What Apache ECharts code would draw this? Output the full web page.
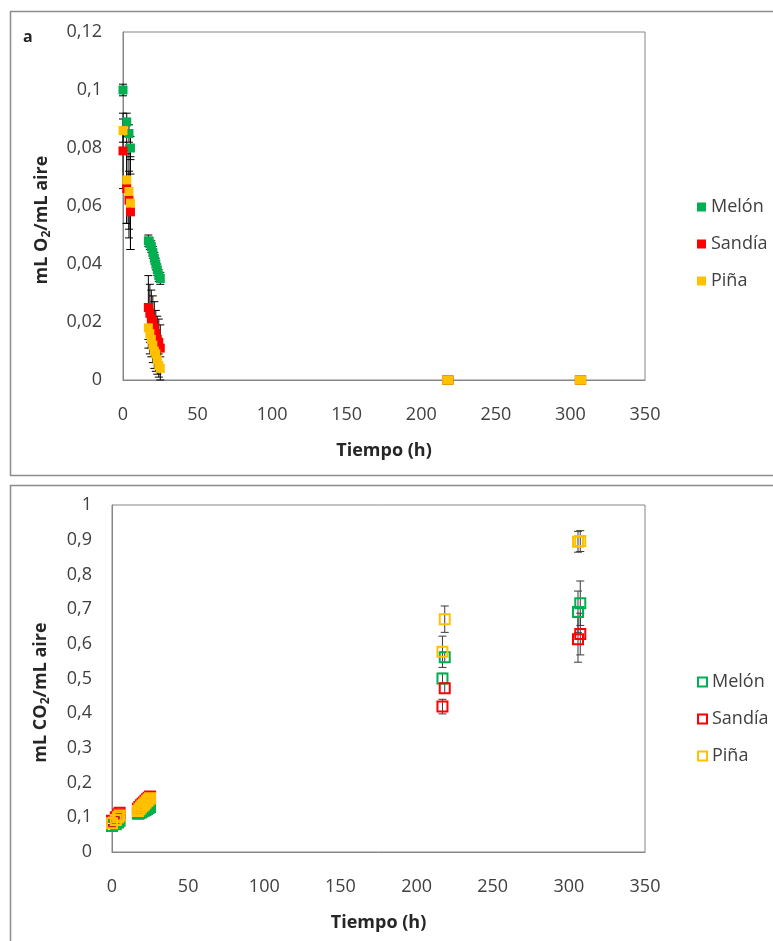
<!DOCTYPE html>
<html>
<head>
<meta charset="utf-8">
<script src="https://cdn.jsdelivr.net/npm/echarts@6/dist/echarts.min.js"></script>
<style>
  html, body { margin: 0; padding: 0; background: #fff; }
  #wrap { position: relative; width: 773px; height: 941px; overflow: hidden; }
  #o2 { position: absolute; left: 0; top: 0; width: 773px; height: 478px; }
  #co2 { position: absolute; left: 0; top: 478px; width: 773px; height: 463px; }
</style>
</head>
<body>
<div id="wrap">
  <div id="o2"></div>
  <div id="co2"></div>
</div>
<script>
// Sampling times (h), shared by both panels
const times = [0, 2.5, 4, 5, 17, 18, 19, 20, 21, 22, 23, 24, 25, 217, 218.5, 306, 307.5];

// Oxygen (mL O2 / mL aire)
const o2Melon  = [0.100, 0.089, 0.085, 0.080, 0.048, 0.047, 0.046, 0.044, 0.042, 0.040, 0.038, 0.036, 0.035, 0, 0, 0, 0];
const o2Sandia = [0.079, 0.066, 0.062, 0.058, 0.025, 0.023, 0.021, 0.020, 0.018, 0.016, 0.014, 0.013, 0.011, 0, 0, 0, 0];
const o2Pina   = [0.086, 0.069, 0.065, 0.061, 0.018, 0.016, 0.014, 0.012, 0.010, 0.009, 0.007, 0.005, 0.004, 0, 0, 0, 0];
const o2MelonErr  = [0.002, 0.003, 0.003, 0.004, 0.002, 0.002, 0.002, 0.002, 0.002, 0.002, 0.002, 0.002, 0.002, 0, 0, 0, 0];
const o2SandiaErr = [0.013, 0.012, 0.010, 0.013, 0.011, 0.010, 0.010, 0.009, 0.009, 0.008, 0.008, 0.008, 0.008, 0, 0, 0, 0];
const o2PinaErr   = [0.004, 0.015, 0.016, 0.016, 0.007, 0.007, 0.006, 0.006, 0.006, 0.006, 0.005, 0.004, 0.004, 0, 0, 0, 0];

// Carbon dioxide (mL CO2 / mL aire)
const co2Melon  = [0.075, 0.080, 0.085, 0.090, 0.110, 0.112, 0.114, 0.117, 0.119, 0.121, 0.124, 0.127, 0.130, 0.500, 0.561, 0.692, 0.717];
const co2Sandia = [0.090, 0.100, 0.108, 0.113, 0.125, 0.130, 0.135, 0.139, 0.143, 0.148, 0.152, 0.156, 0.160, 0.419, 0.472, 0.613, 0.628];
const co2Pina   = [0.083, 0.092, 0.100, 0.105, 0.118, 0.123, 0.128, 0.133, 0.137, 0.142, 0.147, 0.151, 0.155, 0.577, 0.671, 0.894, 0.896];
const co2MelonErr  = [0.004, 0.004, 0.004, 0.004, 0.005, 0.005, 0.005, 0.005, 0.005, 0.005, 0.005, 0.005, 0.005, 0.015, 0.015, 0.060, 0.064];
const co2SandiaErr = [0.004, 0.004, 0.004, 0.004, 0.005, 0.005, 0.005, 0.005, 0.005, 0.005, 0.005, 0.005, 0.005, 0.021, 0.015, 0.066, 0.060];
const co2PinaErr   = [0.004, 0.004, 0.004, 0.004, 0.005, 0.005, 0.005, 0.005, 0.005, 0.005, 0.005, 0.005, 0.005, 0.045, 0.038, 0.030, 0.030];

// Axis ticks
const xTicks = { min: 0, max: 350, interval: 50 };
const o2Ticks = { min: 0, max: 0.12, interval: 0.02 };
const co2Ticks = { min: 0, max: 1, interval: 0.1 };

const seriesNames = ['Melón', 'Sandía', 'Piña'];
const seriesColors = ['#00B050', '#FF0000', '#FFC000'];

const FONT = '"Open Sans", "Noto Sans", sans-serif';
const FS = 18;
const AXIS_GRAY = '#868686';
const TEXT = '#404040';

function pairs(v) { return times.map((t, i) => [t, v[i]]); }
function errRows(v, e) {
  const rows = [];
  times.forEach((t, i) => { if (e[i] > 0) rows.push([t, v[i] - e[i], v[i] + e[i]]); });
  return rows;
}
function commaLabel(v) { return String(Math.round(v * 1000) / 1000).replace('.', ','); }

// Vertical error bar with caps, positioned through the cartesian scales
function errorSeries(name, rows, color, z) {
  return {
    name: name + '-err',
    type: 'custom',
    z: z,
    silent: true,
    data: rows,
    renderItem: function (params, api) {
      const lo = api.coord([api.value(0), api.value(1)]);
      const hi = api.coord([api.value(0), api.value(2)]);
      const cap = 4;
      const st = { stroke: color, lineWidth: 1 };
      return {
        type: 'group',
        children: [
          { type: 'line', shape: { x1: lo[0], y1: lo[1], x2: hi[0], y2: hi[1] }, style: st },
          { type: 'line', shape: { x1: lo[0] - cap, y1: lo[1], x2: lo[0] + cap, y2: lo[1] }, style: st },
          { type: 'line', shape: { x1: hi[0] - cap, y1: hi[1], x2: hi[0] + cap, y2: hi[1] }, style: st }
        ]
      };
    }
  };
}

function yName(text) {
  return {
    name: text,
    nameLocation: 'middle',
    nameRotate: 90,
    nameTextStyle: {
      padding: [0, 28, 0, 0],
      rich: {
        b: { fontFamily: FONT, fontSize: FS, fontWeight: 'bold', color: '#262626', lineHeight: 22 },
        s: { fontFamily: FONT, fontSize: 12, fontWeight: 'bold', color: '#262626', verticalAlign: 'bottom', lineHeight: 14 }
      }
    }
  };
}

function xAxisCfg() {
  return {
    type: 'value', min: xTicks.min, max: xTicks.max, interval: xTicks.interval,
    name: 'Tiempo (h)', nameLocation: 'middle', nameGap: 62,
    nameTextStyle: { fontFamily: FONT, fontSize: FS, fontWeight: 'bold', color: '#262626' },
    axisLine: { show: true, lineStyle: { color: AXIS_GRAY } },
    axisTick: { show: false },
    splitLine: { show: false },
    axisLabel: { fontFamily: FONT, fontSize: FS, color: TEXT, margin: 26 }
  };
}

function legendCfg(top, hollow) {
  return {
    orient: 'vertical', left: 692, top: top,
    itemWidth: 9, itemHeight: 9, itemGap: 19,
    icon: 'rect',
    textStyle: { fontFamily: FONT, fontSize: FS, color: TEXT },
    data: seriesNames.map((n, i) => ({
      name: n,
      itemStyle: hollow
        ? { color: 'rgba(255,255,255,0)', borderColor: seriesColors[i], borderWidth: 2 }
        : { color: seriesColors[i], borderWidth: 0 }
    }))
  };
}

// ---- Panel a: O2 ----
const o2Chart = echarts.init(document.getElementById('o2'), null, { renderer: 'canvas' });
const o2Vals = [o2Melon, o2Sandia, o2Pina];
const o2Errs = [o2MelonErr, o2SandiaErr, o2PinaErr];
const o2Series = [];
o2Vals.forEach((v, i) => o2Series.push(errorSeries(seriesNames[i], errRows(v, o2Errs[i]), '#000', 1)));
o2Vals.forEach((v, i) => o2Series.push({
  name: seriesNames[i], type: 'scatter', symbol: 'rect', symbolSize: 9, z: 5 + i,
  itemStyle: { color: seriesColors[i], opacity: 1 },
  data: pairs(v)
}));
o2Chart.setOption({
  animation: false,
  textStyle: { fontFamily: FONT },
  graphic: [
    { type: 'rect', left: 8, top: 9, silent: true, shape: { width: 800, height: 464 },
      style: { fill: 'none', stroke: '#8c8c8c', lineWidth: 1.5 } },
    { type: 'text', left: 23, top: 29, style: { text: 'a', fontFamily: FONT, fontSize: 16, fontWeight: 'bold', fill: '#262626' } }
  ],
  grid: { left: 123, top: 32, right: 128, bottom: 98, show: true, borderColor: AXIS_GRAY, borderWidth: 1, backgroundColor: '#fff' },
  legend: legendCfg(193, false),
  xAxis: xAxisCfg(),
  yAxis: Object.assign({
    type: 'value', min: o2Ticks.min, max: o2Ticks.max, interval: o2Ticks.interval,
    nameGap: 70,
    axisLine: { show: true, lineStyle: { color: AXIS_GRAY } },
    axisTick: { show: false },
    splitLine: { show: false },
    axisLabel: { fontFamily: FONT, fontSize: FS, color: TEXT, margin: 21, formatter: commaLabel }
  }, yName('{b|mL O}{s|2}{b|/mL aire}')),
  series: o2Series
});

// ---- Panel b: CO2 ----
const co2Chart = echarts.init(document.getElementById('co2'), null, { renderer: 'canvas' });
const co2Vals = [co2Melon, co2Sandia, co2Pina];
const co2Errs = [co2MelonErr, co2SandiaErr, co2PinaErr];
const co2Series = [];
co2Vals.forEach((v, i) => co2Series.push(errorSeries(seriesNames[i], errRows(v, co2Errs[i]), '#3a3a3a', 1)));
co2Vals.forEach((v, i) => co2Series.push({
  name: seriesNames[i], type: 'scatter', symbol: 'rect', symbolSize: 10, z: 5 + i,
  itemStyle: { color: 'rgba(255,255,255,0)', borderColor: seriesColors[i], borderWidth: 2, opacity: 1 },
  data: pairs(v)
}));
co2Chart.setOption({
  animation: false,
  textStyle: { fontFamily: FONT },
  graphic: [
    { type: 'rect', left: 8, top: 5, silent: true, shape: { width: 800, height: 500 },
      style: { fill: 'none', stroke: '#8c8c8c', lineWidth: 1.5 } }
  ],
  grid: { left: 112, top: 27, right: 128, bottom: 89, show: true, borderColor: AXIS_GRAY, borderWidth: 1, backgroundColor: '#fff' },
  legend: legendCfg(190, true),
  xAxis: xAxisCfg(),
  yAxis: Object.assign({
    type: 'value', min: co2Ticks.min, max: co2Ticks.max, interval: co2Ticks.interval,
    nameGap: 60,
    axisLine: { show: true, lineStyle: { color: AXIS_GRAY } },
    axisTick: { show: false },
    splitLine: { show: false },
    axisLabel: { fontFamily: FONT, fontSize: FS, color: TEXT, margin: 20, formatter: commaLabel }
  }, yName('{b|mL CO}{s|2}{b|/mL aire}')),
  series: co2Series
});
</script>
</body>
</html>
